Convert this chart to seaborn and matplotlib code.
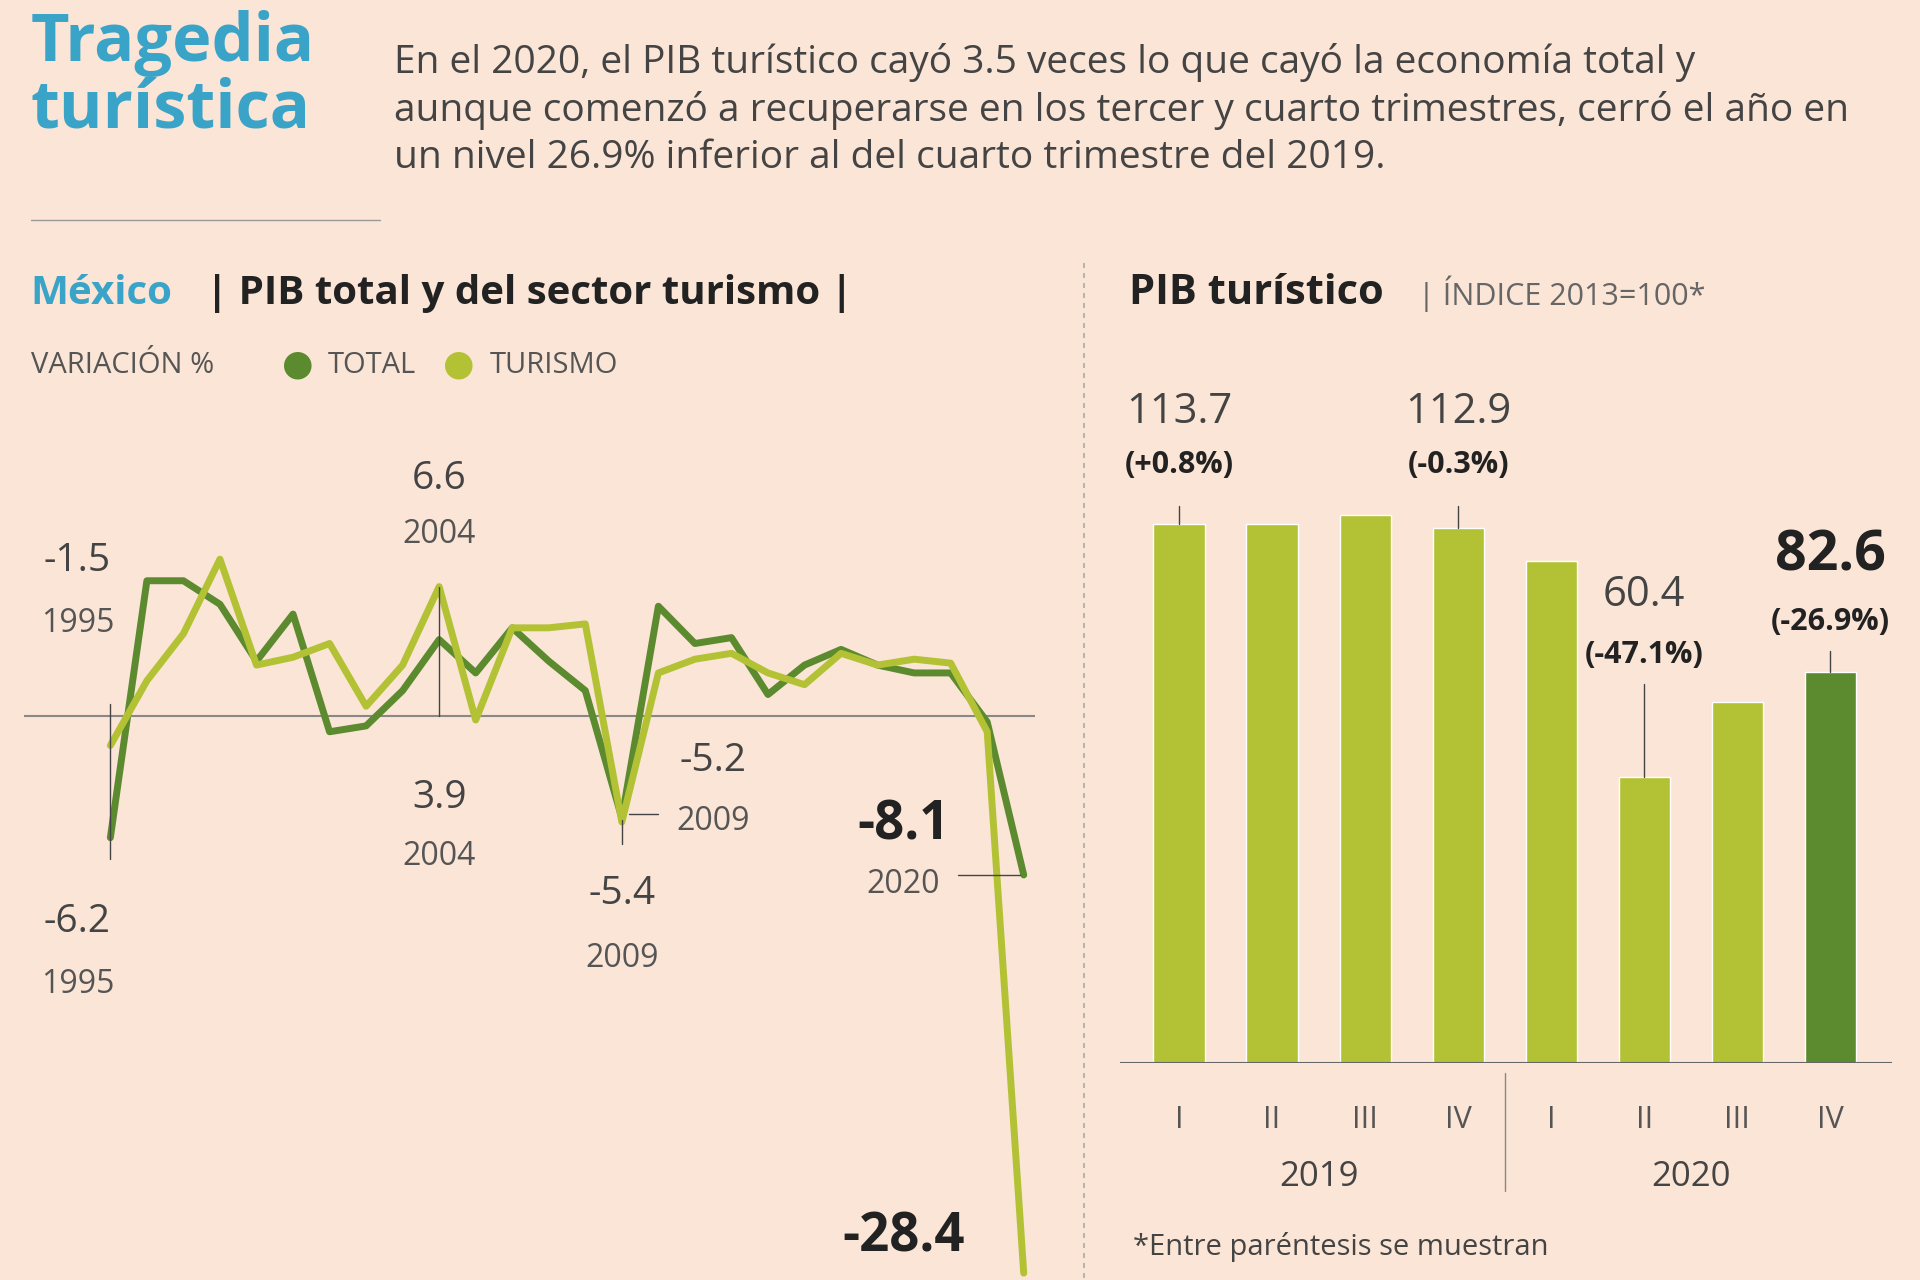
import matplotlib.pyplot as plt
import numpy as np
import pandas as pd
import seaborn as sns

sns.set_theme(style="white")
plt.rcParams['font.family'] = ['Open Sans', 'DejaVu Sans']

BG = '#fbe5d6'
LIGHT = '#b3c234'
DARK = '#5b8a2f'
BLUE = '#3aa3c8'

years = list(range(1995, 2021))
total = [-6.2, 6.9, 6.9, 5.7, 2.8, 5.2, -0.8, -0.5, 1.3, 3.9, 2.2, 4.5, 2.8, 1.3,
         -5.2, 5.6, 3.7, 4.0, 1.1, 2.6, 3.4, 2.6, 2.2, 2.2, -0.3, -8.1]
turismo = [-1.5, 1.8, 4.2, 8.0, 2.6, 3.0, 3.7, 0.5, 2.6, 6.6, -0.2, 4.5, 4.5, 4.7,
           -5.4, 2.2, 2.9, 3.2, 2.2, 1.6, 3.2, 2.6, 2.9, 2.7, -0.8, -28.4]

trimestres = ['I', 'II', 'III', 'IV', 'I ', 'II ', 'III ', 'IV ']
indice = [113.7, 113.7, 115.7, 112.9, 106.0, 60.4, 76.2, 82.6]
bar_colors = [LIGHT] * 7 + [DARK]

W, H = 1568, 1045  # layout measured on the reference's display size


def fx(x):
    return x / W


def fy(y):
    return 1 - y / H


fig = plt.figure(figsize=(19.2, 12.8), dpi=100, facecolor=BG)

# header
fig.text(fx(25), fy(8), 'Tragedia\nturística', color=BLUE, fontsize=48, fontweight='bold',
         va='top', linespacing=1.0)
fig.text(fx(322), fy(90), 'En el 2020, el PIB turístico cayó 3.5 veces lo que cayó la economía total y\n'
         'aunque comenzó a recuperarse en los tercer y cuarto trimestres, cerró el año en\n'
         'un nivel 26.9% inferior al del cuarto trimestre del 2019.',
         color='#444444', fontsize=28, va='center', linespacing=1.3)
fig.add_artist(plt.Line2D([fx(25), fx(310)], [fy(180), fy(180)], color='#999999', lw=1))
fig.add_artist(plt.Line2D([fx(885), fx(885)], [fy(215), 0], color='#aaaaaa', lw=1.2, ls=(0, (3, 3))))

fig.text(fx(25), fy(240), 'México', color=BLUE, fontsize=29, fontweight='bold', va='center')
fig.text(fx(168), fy(240), '| PIB total y del sector turismo |', color='#222222', fontsize=29,
         fontweight='bold', va='center')
fig.text(fx(25), fy(298), 'VARIACIÓN %', color='#555555', fontsize=21, va='center')
fig.text(fx(230), fy(298), '●', color=DARK, fontsize=26, va='center')
fig.text(fx(268), fy(298), 'TOTAL', color='#555555', fontsize=21, va='center')
fig.text(fx(362), fy(298), '●', color=LIGHT, fontsize=26, va='center')
fig.text(fx(400), fy(298), 'TURISMO', color='#555555', fontsize=21, va='center')

fig.text(fx(922), fy(240), 'PIB turístico', color='#222222', fontsize=30, fontweight='bold', va='center')
fig.text(fx(1158), fy(240), '| ÍNDICE 2013=100*', color='#666666', fontsize=22, va='center')
fig.text(fx(925), fy(1018), '*Entre paréntesis se muestran', color='#444444', fontsize=21, va='center')

# line chart
ax = fig.add_axes([fx(20), 0, fx(845) - fx(20), fy(330)])
ax.set_facecolor(BG)
df = pd.DataFrame({'year': years, 'TOTAL': total, 'TURISMO': turismo})
sns.lineplot(data=df, x='year', y='TOTAL', color=DARK, lw=5, ax=ax)
sns.lineplot(data=df, x='year', y='TURISMO', color=LIGHT, lw=5, ax=ax)
ax.axhline(0, color='#888888', lw=1.5, zorder=0)
ax.set_xlim(1992.65, 2020.3)
ax.set_ylim(-28.75, 15.9)
ax.axis('off')

lab = dict(color='#444444', fontsize=28, ha='center')
yl = dict(color='#555555', fontsize=23, ha='center')
ax.plot([1995, 1995], [-7.3, 0.6], color='#444444', lw=1)
ax.text(1994.1, 7.4, '-1.5', **lab)
ax.text(1994.1, 4.3, '1995', **yl)
ax.text(1994.1, -11.0, '-6.2', **lab)
ax.text(1994.1, -14.1, '1995', **yl)
ax.plot([2004, 2004], [0, 6.6], color='#444444', lw=1)
ax.text(2004, 11.6, '6.6', **lab)
ax.text(2004, 8.8, '2004', **yl)
ax.text(2004, -4.7, '3.9', **lab)
ax.text(2004, -7.6, '2004', **yl)
ax.plot([2009, 2009], [-5.3, -6.5], color='#444444', lw=1)
ax.plot([2009.2, 2010], [-5.0, -5.0], color='#444444', lw=1)
ax.text(2011.5, -2.8, '-5.2', **lab)
ax.text(2011.5, -5.8, '2009', **yl)
ax.text(2009, -9.6, '-5.4', **lab)
ax.text(2009, -12.8, '2009', **yl)
ax.text(2016.7, -6.3, '-8.1', color='#222222', fontsize=38, fontweight='bold', ha='center')
ax.text(2016.7, -9.0, '2020', **yl)
ax.plot([2018.2, 2019.9], [-8.1, -8.1], color='#444444', lw=1)
ax.text(2016.7, -27.3, '-28.4', color='#222222', fontsize=38, fontweight='bold', ha='center')

# bar chart
bx = fig.add_axes([fx(915), fy(868), fx(1545) - fx(915), fy(300) - fy(868)])
bx.set_facecolor(BG)
bdf = pd.DataFrame({'t': trimestres, 'v': indice})
sns.barplot(data=bdf, x='t', y='v', hue='t', palette=bar_colors, legend=False, width=0.55,
            saturation=1, ax=bx)
bx.set_xlim(-0.63, 7.66)
bx.set_ylim(0, 146.8)
bx.axis('off')
bx.axhline(0, color='#666666', lw=1.5)

top = dict(color='#444444', fontsize=30, ha='center')
par = dict(color='#222222', fontsize=22, fontweight='bold', ha='center')
bx.plot([0, 0], [113.7, 117.5], color='#444444', lw=1)
bx.text(0, 135, '113.7', **top)
bx.text(0, 124.5, '(+0.8%)', **par)
bx.plot([3, 3], [112.9, 117.5], color='#444444', lw=1)
bx.text(3, 135, '112.9', **top)
bx.text(3, 124.5, '(-0.3%)', **par)
bx.plot([5, 5], [60.4, 80], color='#444444', lw=1)
bx.text(5, 96.5, '60.4', **top)
bx.text(5, 84.5, '(-47.1%)', **par)
bx.plot([7, 7], [82.6, 87], color='#444444', lw=1)
bx.text(7, 104, '82.6', color='#222222', fontsize=40, fontweight='bold', ha='center')
bx.text(7, 91.5, '(-26.9%)', **par)

for i, t in enumerate(trimestres):
    bx.text(i, -12, t.strip(), color='#555555', fontsize=22, ha='center', va='center')
bx.text(1.5, -24, '2019', color='#444444', fontsize=25, ha='center', va='center')
bx.text(5.5, -24, '2020', color='#444444', fontsize=25, ha='center', va='center')
bx.plot([3.5, 3.5], [-2, -27], color='#888888', lw=1, clip_on=False)

fig.savefig('out.png', dpi=100, facecolor=BG)
